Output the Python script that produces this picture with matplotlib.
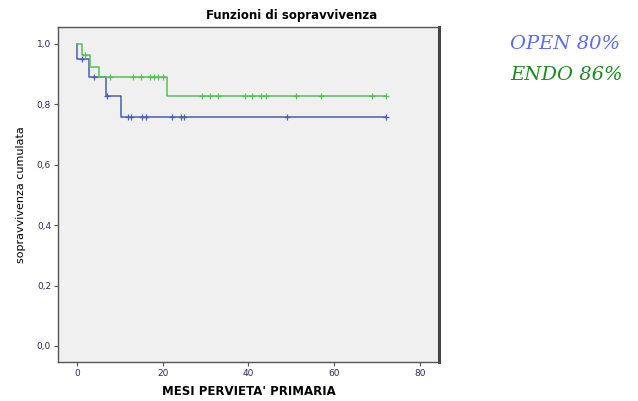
import matplotlib
matplotlib.use("Agg")
import matplotlib.pyplot as plt

# curve OPEN (blu): tempi dei gradini e sopravvivenza
open_t = [0, 0, 2.9, 6.9, 10.2, 72.0]
open_s = [1.0, 0.95, 0.892, 0.828, 0.759, 0.759]
open_cens_t = [1.1, 4.0, 7.0, 12.0, 12.7, 15.1, 16.0, 22.1, 24.2, 25.0, 48.9, 72.0]

# curve ENDO (verde)
endo_t = [0, 1.1, 3.0, 5.2, 20.9, 72.0]
endo_s = [1.0, 0.964, 0.925, 0.89, 0.828, 0.828]
endo_cens_t = [1.9, 7.8, 13.0, 14.9, 17.0, 17.9, 19.0, 20.0,
               29.1, 31.0, 32.9, 39.2, 40.9, 42.8, 44.1, 51.0, 56.9, 68.8, 72.0]

x_ticks = [0, 20, 40, 60, 80]
y_ticks = [0.0, 0.2, 0.4, 0.6, 0.8, 1.0]

c_open = "#4b5fae"
c_endo = "#55c255"


def surv_at(t_steps, s_steps, t):
    s = s_steps[0]
    for ti, si in zip(t_steps, s_steps):
        if ti <= t:
            s = si
    return s


fig = plt.figure(figsize=(6.38, 4.01), dpi=100)
fig.patch.set_facecolor("white")
ax = fig.add_axes([58 / 638, 1 - 362 / 401, (439 - 58) / 638, (362 - 27) / 401])
ax.set_facecolor("#f0f0f0")

# blu sotto, verde sopra (come nell'originale)
ax.step(open_t, open_s, where="post", color=c_open, lw=1.1, zorder=2)
ax.step(endo_t, endo_s, where="post", color=c_endo, lw=1.1, zorder=3)
ax.plot(open_cens_t, [surv_at(open_t, open_s, t) for t in open_cens_t],
        ls="none", marker="+", ms=5, mew=0.9, color=c_open, zorder=2)
ax.plot(endo_cens_t, [surv_at(endo_t, endo_s, t) for t in endo_cens_t],
        ls="none", marker="+", ms=5, mew=0.9, color=c_endo, zorder=3)

ax.set_xlim(-4.4, 84.4)
ax.set_ylim(-0.053, 1.056)
ax.set_xticks(x_ticks)
ax.set_yticks(y_ticks)
ax.set_xticklabels([str(v) for v in x_ticks])
ax.set_yticklabels([f"{v:.1f}".replace(".", ",") for v in y_ticks])
ax.tick_params(labelsize=6.5, labelcolor="#2a2a60", length=3, width=0.8,
               color="#555555", pad=2)

for sp in ax.spines.values():
    sp.set_color("#555555")
    sp.set_linewidth(1.0)
ax.spines["right"].set_linewidth(2.2)
ax.spines["right"].set_color("#444444")

ax.set_xlabel("MESI PERVIETA' PRIMARIA", fontsize=8.5, fontweight="bold", labelpad=5)
ax.set_ylabel("sopravvivenza cumulata", fontsize=8, labelpad=8)
fig.text(292 / 638, 1 - 16 / 401, "Funzioni di sopravvivenza", fontsize=8.5,
         fontweight="bold", ha="center", va="center")

fig.text(510 / 638, 1 - 44 / 401, "OPEN 80%", fontsize=14, style="italic",
         family="DejaVu Serif", color="#5b6cf5", ha="left", va="center")
fig.text(510 / 638, 1 - 75 / 401, "ENDO 86%", fontsize=14, style="italic",
         family="DejaVu Serif", color="#1e8a1e", ha="left", va="center")

fig.savefig("out.png", dpi=100)
